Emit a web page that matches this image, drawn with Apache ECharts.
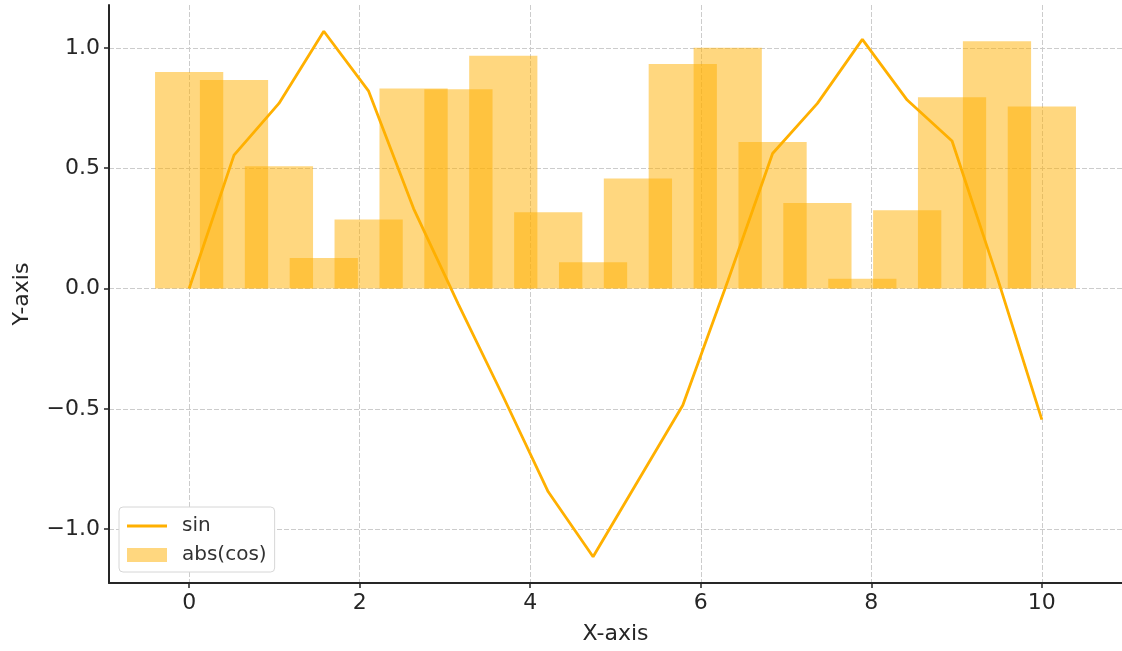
<!DOCTYPE html>
<html>
<head>
<meta charset="utf-8">
<script src="https://cdn.jsdelivr.net/npm/echarts@6/dist/echarts.min.js"></script>
<style>
  html, body { margin: 0; padding: 0; background: #fff; }
  #chart { width: 1122px; height: 651px; }
</style>
</head>
<body>
<div id="chart"></div>
<script>
// x positions (shared by the line and the bars)
const xValues = [0, 0.526, 1.053, 1.579, 2.105, 2.632, 3.158, 3.684, 4.211, 4.737,
    5.263, 5.789, 6.316, 6.842, 7.368, 7.895, 8.421, 8.947, 9.474, 10]
const sinValues = [0.0, 0.554, 0.769, 1.069, 0.820, 0.332, -0.066, -0.450, -0.845, -1.115,
    -0.80, -0.485, 0.03, 0.561, 0.769, 1.035, 0.783, 0.613, 0.049, -0.545]
const absCosValues = [0.900, 0.866, 0.508, 0.127, 0.287, 0.831, 0.828, 0.967, 0.317, 0.109,
    0.457, 0.933, 1.000, 0.609, 0.355, 0.040, 0.325, 0.795, 1.027, 0.756]
const xTicks = [0, 2, 4, 6, 8, 10]
const yTicks = [-1, -0.5, 0, 0.5, 1]

const textColor = '#262626'
const mainColor = '#ffb000'
const barHalf = 0.4 // half bar width, in x units

const chart = echarts.init(document.getElementById('chart'))

const fmtY = v => v.toFixed(1).replace('-', '\u2212')

const option = {
    animation: false,
    textStyle: { fontFamily: 'DejaVu Sans' },
    grid: { left: 109, right: 0, top: 5, bottom: 68 },
    legend: {
        orient: 'vertical',
        left: 119,
        top: 507,
        padding: [9, 8, 7, 8],
        itemWidth: 40,
        itemHeight: 14,
        itemGap: 9,
        backgroundColor: '#fff',
        borderColor: '#d6d6d6',
        borderWidth: 1,
        borderRadius: 4,
        textStyle: { fontSize: 20, color: '#333', fontFamily: 'DejaVu Sans', padding: [0, 4, 0, 10] },
        data: [
            { name: 'sin', icon: 'path://M0,0L40,0L40,3L0,3Z', itemStyle: { color: mainColor } },
            { name: 'abs(cos)', icon: 'rect' }
        ]
    },
    xAxis: {
        type: 'value',
        min: -0.94,
        max: 10.94,
        name: 'X-axis',
        nameLocation: 'middle',
        nameGap: 40,
        nameTextStyle: { fontSize: 22, color: textColor },
        axisLine: { onZero: false, lineStyle: { color: textColor, width: 2 } },
        axisTick: { customValues: xTicks, length: 5, lineStyle: { color: textColor, width: 1.5 } },
        axisLabel: {
            customValues: xTicks,
            fontSize: 22,
            color: textColor,
            margin: 9
        },
        splitLine: { show: true, lineStyle: { color: '#cccccc', type: [5, 2], width: 1 } }
    },
    yAxis: {
        type: 'value',
        min: -1.224,
        max: 1.178,
        name: 'Y-axis',
        nameLocation: 'middle',
        nameGap: 76,
        nameTextStyle: { fontSize: 22, color: textColor },
        axisLine: { show: true, onZero: false, lineStyle: { color: textColor, width: 2 } },
        axisTick: { show: true, customValues: yTicks, length: 5, lineStyle: { color: textColor, width: 1.5 } },
        axisLabel: {
            customValues: yTicks,
            fontSize: 22,
            color: textColor,
            margin: 9,
            formatter: fmtY
        },
        splitLine: { show: true, lineStyle: { color: '#cccccc', type: [5, 2], width: 1 } }
    },
    series: [
        {
            name: 'abs(cos)',
            type: 'custom',
            z: 1,
            itemStyle: { color: 'rgba(255,176,0,0.5)' },
            encode: { x: 0, y: 1 },
            data: xValues.map((x, i) => [x, absCosValues[i]]),
            renderItem: function (params, api) {
                const x = api.value(0)
                const y = api.value(1)
                const p0 = api.coord([x - barHalf, y])
                const p1 = api.coord([x + barHalf, 0])
                return {
                    type: 'rect',
                    shape: { x: p0[0], y: p0[1], width: p1[0] - p0[0], height: p1[1] - p0[1] },
                    style: api.style()
                }
            }
        },
        {
            name: 'sin',
            type: 'line',
            z: 3,
            symbol: 'none',
            color: mainColor,
            lineStyle: { color: mainColor, width: 2.8 },
            data: xValues.map((x, i) => [x, sinValues[i]])
        }
    ]
}

chart.setOption(option)
window.addEventListener('resize', chart.resize)
</script>
</body>
</html>
